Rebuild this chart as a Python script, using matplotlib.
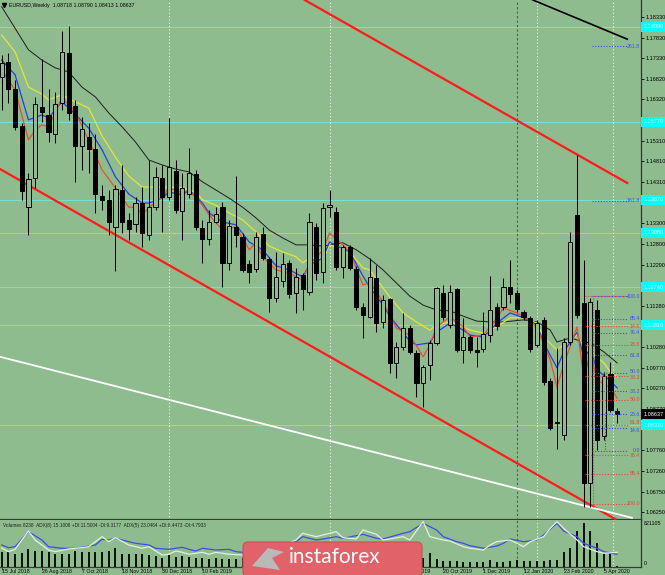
import matplotlib
matplotlib.use('Agg')
import matplotlib.pyplot as plt
import matplotlib.transforms as mtransforms
from matplotlib.patches import Rectangle, FancyBboxPatch, Polygon

plt.rcParams['font.family'] = ['Liberation Sans', 'DejaVu Sans']

BG = '#8fbc8f'

# weekly EURUSD candles, 15 Jul 2018 .. 19 Apr 2020 (bar index 0..92)
opens = [1.1687, 1.1723, 1.1657, 1.1567, 1.1369, 1.1440, 1.1613, 1.1594, 1.1548, 1.1623,
         1.1745, 1.1616, 1.1518, 1.1540, 1.1511, 1.1396, 1.1387, 1.1321, 1.1411, 1.1338,
         1.1328, 1.1379, 1.1301, 1.1369, 1.1440, 1.1394, 1.1457, 1.1360, 1.1401, 1.1450,
         1.1318, 1.1291, 1.1333, 1.1369, 1.1233, 1.1321, 1.1296, 1.1230, 1.1218, 1.1304,
         1.1243, 1.1147, 1.1189, 1.1233, 1.1160, 1.1204, 1.1162, 1.1321, 1.1211, 1.1369,
         1.1357, 1.1223, 1.1272, 1.1218, 1.1125, 1.1101, 1.1196, 1.1089, 1.1145, 1.0989,
         1.1028, 1.1074, 1.1013, 1.0940, 1.0984, 1.1038, 1.1160, 1.1082, 1.1169, 1.1021,
         1.1052, 1.1021, 1.1023, 1.1057, 1.1125, 1.1125, 1.1174, 1.1160, 1.1113, 1.1099,
         1.1033, 1.1094, 1.0945, 1.0842, 1.0813, 1.1040, 1.1350, 1.1135, 1.0696, 1.1118,
         1.0811, 1.0962, 1.08718]
highs = [1.1740, 1.1745, 1.1679, 1.1574, 1.1452, 1.1638, 1.1731, 1.1657, 1.1650, 1.1799,
         1.1811, 1.1631, 1.1589, 1.1574, 1.1548, 1.1423, 1.1411, 1.1423, 1.1472, 1.1355,
         1.1394, 1.1418, 1.1484, 1.1467, 1.1472, 1.1587, 1.1484, 1.1452, 1.1513, 1.1460,
         1.1338, 1.1362, 1.1369, 1.1382, 1.1338, 1.1445, 1.1306, 1.1240, 1.1308, 1.1321,
         1.1247, 1.1260, 1.1257, 1.1240, 1.1221, 1.1208, 1.1355, 1.1330, 1.1379, 1.1411,
         1.1369, 1.1277, 1.1277, 1.1226, 1.1135, 1.1245, 1.1228, 1.1155, 1.1147, 1.1040,
         1.1111, 1.1082, 1.1021, 1.0984, 1.1045, 1.1174, 1.1179, 1.1179, 1.1172, 1.1099,
         1.1057, 1.1052, 1.1113, 1.1201, 1.1135, 1.1196, 1.1240, 1.1167, 1.1118, 1.1103,
         1.1094, 1.1101, 1.0952, 1.1025, 1.1050, 1.1308, 1.1496, 1.1240, 1.1147, 1.1143,
         1.0967, 1.0991, 1.08790]
lows = [1.1606, 1.1623, 1.1557, 1.1387, 1.1301, 1.1416, 1.1577, 1.1528, 1.1526, 1.1606,
        1.1582, 1.1430, 1.1460, 1.1452, 1.1355, 1.1362, 1.1301, 1.1213, 1.1306, 1.1289,
        1.1308, 1.1272, 1.1289, 1.1362, 1.1308, 1.1387, 1.1355, 1.1289, 1.1391, 1.1313,
        1.1233, 1.1277, 1.1330, 1.1174, 1.1216, 1.1272, 1.1211, 1.1184, 1.1211, 1.1240,
        1.1113, 1.1138, 1.1174, 1.1147, 1.1111, 1.1118, 1.1155, 1.1191, 1.1184, 1.1345,
        1.1216, 1.1196, 1.1216, 1.1118, 1.1050, 1.1099, 1.1064, 1.1074, 1.0964, 1.0952,
        1.1021, 1.1011, 1.0906, 1.0881, 1.0947, 1.1033, 1.1094, 1.1074, 1.1016, 1.0989,
        1.1013, 1.0979, 1.1016, 1.1040, 1.1069, 1.1118, 1.1135, 1.1113, 1.1094, 1.1016,
        1.1028, 1.0935, 1.0825, 1.0779, 1.0801, 1.1033, 1.1099, 1.0637, 1.0637, 1.0777,
        1.0801, 1.0869, 1.08413]
closes = [1.1721, 1.1657, 1.1565, 1.1408, 1.1438, 1.1621, 1.1601, 1.1552, 1.1621, 1.1748,
          1.1599, 1.1518, 1.1560, 1.1511, 1.1401, 1.1387, 1.1333, 1.1413, 1.1333, 1.1316,
          1.1379, 1.1306, 1.1369, 1.1443, 1.1394, 1.1467, 1.1362, 1.1416, 1.1452, 1.1321,
          1.1291, 1.1333, 1.1352, 1.1233, 1.1323, 1.1301, 1.1216, 1.1211, 1.1296, 1.1245,
          1.1147, 1.1199, 1.1230, 1.1157, 1.1199, 1.1169, 1.1333, 1.1208, 1.1367, 1.1374,
          1.1223, 1.1272, 1.1221, 1.1125, 1.1106, 1.1199, 1.1086, 1.1143, 1.0989, 1.1028,
          1.1074, 1.1016, 1.0940, 1.0979, 1.1038, 1.1172, 1.1101, 1.1162, 1.1021, 1.1052,
          1.1021, 1.1016, 1.1060, 1.1118, 1.1079, 1.1174, 1.1157, 1.1121, 1.1101, 1.1023,
          1.1086, 1.0942, 1.0830, 1.0845, 1.1040, 1.1284, 1.1106, 1.0696, 1.1138, 1.0801,
          1.0957, 1.0874, 1.08637]
volumes = [281000, 270000, 232000, 262000, 327000, 295000, 295000, 270000, 243000, 243000,
           243000, 295000, 270000, 270000, 270000, 270000, 295000, 357000, 243000, 238000,
           238000, 232000, 219000, 194000, 167000, 219000, 186000, 194000, 186000, 156000,
           156000, 148000, 156000, 148000, 148000, 148000, 156000, 150000, 160000, 145000,
           170000, 155000, 140000, 150000, 165000, 150000, 145000, 160000, 150000, 140000,
           155000, 150000, 145000, 160000, 150000, 155000, 145000, 150000, 140000, 150000,
           155000, 145000, 150000, 156000, 251000, 143000, 105000, 105000, 105000, 80000,
           86000, 91000, 91000, 118000, 91000, 91000, 105000, 124000, 105000, 105000,
           105000, 105000, 118000, 118000, 276000, 346000, 675000, 821105, 675000, 441000,
           251000, 270000, 8238]

# moving averages (bar index, price)
ma_black_x = [0, 4, 6, 8, 10, 12, 14, 16, 18, 20, 22, 24, 26, 28, 30, 32, 34, 36, 38, 40,
              42, 44, 46, 48, 51, 53, 55, 57, 59, 61, 63, 65, 67, 69, 71, 73, 75, 78, 80, 82,
              83, 85, 87, 88, 90, 92]
ma_black_y = [1.1858, 1.1753, 1.1728, 1.1709, 1.1699, 1.1662, 1.1638, 1.1599, 1.1565, 1.1528,
              1.1484, 1.1472, 1.1462, 1.1455, 1.1431, 1.1411, 1.1391, 1.1369, 1.1343, 1.1313,
              1.1294, 1.1277, 1.1277, 1.1274, 1.1282, 1.1265, 1.1243, 1.1216, 1.1184, 1.1152,
              1.1130, 1.1118, 1.1116, 1.1103, 1.1091, 1.1089, 1.1089, 1.1094, 1.1089, 1.1069,
              1.1040, 1.1050, 1.1040, 1.1038, 1.1016, 1.0989]
ma_yellow_x = [0, 2, 4, 6, 7, 9, 11, 13, 15, 17, 19, 21, 23, 25, 27, 29, 30, 32, 34, 36,
               38, 40, 42, 44, 45, 46, 47, 48, 49, 51, 52, 54, 55, 57, 58, 60, 62, 64, 65, 67,
               69, 70, 72, 74, 76, 78, 80, 81, 83, 84, 86, 87, 88, 90, 91, 92]
ma_yellow_y = [1.1789, 1.1748, 1.1662, 1.1645, 1.1631, 1.1643, 1.1626, 1.1611, 1.1543, 1.1491,
               1.1445, 1.1418, 1.1418, 1.1418, 1.1416, 1.1406, 1.1387, 1.1374, 1.1355, 1.1338,
               1.1309, 1.1274, 1.1260, 1.1248, 1.1233, 1.1245, 1.1245, 1.1240, 1.1277, 1.1267,
               1.1260, 1.1221, 1.1216, 1.1172, 1.1150, 1.1111, 1.1089, 1.1069, 1.1082, 1.1089,
               1.1077, 1.1069, 1.1062, 1.1077, 1.1099, 1.1099, 1.1086, 1.1052, 1.1021, 1.1033,
               1.1057, 1.1030, 1.1016, 1.0989, 1.0967, 1.0955]
ma_blue_x = [0, 2, 4, 6, 7, 9, 11, 13, 15, 17, 19, 21, 22, 24, 25, 27, 28, 30, 31, 33,
             35, 37, 39, 41, 43, 45, 46, 48, 49, 51, 52, 54, 55, 57, 58, 61, 62, 64, 65, 67,
             69, 70, 72, 74, 76, 78, 80, 81, 83, 84, 86, 87, 88, 89, 91, 92]
ma_blue_y = [1.1728, 1.1692, 1.1582, 1.1594, 1.1587, 1.1626, 1.1596, 1.1562, 1.1509, 1.1443,
             1.1401, 1.1379, 1.1379, 1.1391, 1.1406, 1.1399, 1.1411, 1.1379, 1.1355, 1.1333,
             1.1326, 1.1284, 1.1265, 1.1226, 1.1216, 1.1199, 1.1228, 1.1245, 1.1284, 1.1267,
             1.1260, 1.1201, 1.1174, 1.1130, 1.1103, 1.1042, 1.1033, 1.1038, 1.1064, 1.1086,
             1.1069, 1.1057, 1.1052, 1.1086, 1.1111, 1.1099, 1.1082, 1.1038, 1.0977, 1.1016,
             1.1064, 1.1004, 1.1021, 1.0972, 1.0945, 1.0928]
ma_red_x = [0, 2, 4, 5, 6, 7, 9, 11, 13, 15, 17, 19, 20, 21, 23, 24, 25, 27, 28, 30,
            31, 33, 35, 37, 38, 39, 41, 43, 45, 46, 47, 48, 49, 51, 52, 54, 55, 57, 59, 61,
            63, 64, 65, 67, 69, 70, 72, 74, 75, 77, 79, 80, 82, 83, 84, 86, 87, 88, 89, 91, 92]
ma_red_y = [1.1704, 1.1655, 1.1533, 1.1557, 1.1570, 1.1565, 1.1636, 1.1601, 1.1533, 1.1460,
            1.1416, 1.1369, 1.1369, 1.1352, 1.1382, 1.1394, 1.1416, 1.1404, 1.1411, 1.1374,
            1.1350, 1.1313, 1.1321, 1.1265, 1.1282, 1.1248, 1.1216, 1.1208, 1.1191, 1.1233,
            1.1245, 1.1265, 1.1306, 1.1277, 1.1260, 1.1179, 1.1186, 1.1138, 1.1074, 1.1057,
            1.1004, 1.1033, 1.1077, 1.1101, 1.1077, 1.1052, 1.1057, 1.1099, 1.1123, 1.1111,
            1.1094, 1.1074, 1.0996, 1.0930, 1.0984, 1.1077, 1.0952, 1.1013, 1.0947, 1.0928,
            1.0903]

# ADX lines in the volume window
adx8_x = [0, 1, 2, 4, 6, 7, 9, 11, 12, 14, 15, 16, 17, 19, 20, 22, 23, 25, 27, 28,
          29, 30, 32, 34, 35, 36, 39, 42, 44, 45, 47, 48, 50, 51, 54, 56, 57, 60, 61, 63,
          65, 66, 68, 69, 70, 72, 74, 75, 76, 78, 80, 81, 83, 84, 86, 87, 89, 90, 92]
adx8_v = [26.7, 23.3, 24.6, 43.2, 32.9, 24.6, 22.6, 22.6, 23.8, 26.7, 33.7, 32.9, 35.0, 30.8,
          28.8, 26.7, 22.6, 21.3, 23.8, 21.3, 19.2, 22.6, 20.5, 21.3, 18.4, 17.6, 19.2, 25.4,
          30.8, 37.0, 32.9, 34.1, 37.0, 35.0, 39.9, 35.0, 34.1, 41.2, 43.2, 53.6, 45.3, 37.0,
          30.8, 28.8, 25.8, 22.6, 25.4, 28.8, 34.1, 30.8, 32.9, 39.1, 53.6, 44.0, 37.0, 28.8,
          22.6, 18.4, 15.1]
adx5_x = [0, 1, 2, 4, 5, 7, 8, 10, 12, 13, 15, 16, 17, 19, 21, 22, 24, 25, 26, 27,
          28, 30, 31, 32, 34, 36, 39, 42, 44, 45, 47, 48, 50, 51, 53, 54, 56, 57, 60, 61,
          63, 64, 66, 67, 69, 70, 72, 73, 74, 76, 77, 78, 79, 81, 82, 83, 84, 86, 87, 89,
          90, 92]
adx5_v = [30.0, 24.0, 27.9, 57.5, 42.9, 26.7, 24.0, 28.4, 30.5, 32.1, 48.3, 40.2, 46.7, 34.8,
          29.5, 32.1, 18.6, 19.8, 25.1, 23.0, 19.8, 23.0, 19.8, 23.0, 19.8, 18.6, 21.9, 34.8,
          42.9, 53.8, 48.3, 51.0, 56.4, 46.7, 44.6, 59.1, 52.2, 42.9, 48.3, 42.9, 72.6, 48.3,
          42.9, 41.3, 32.1, 29.5, 26.7, 34.8, 40.2, 42.9, 37.6, 32.1, 40.2, 48.3, 61.9, 72.6,
          61.9, 42.9, 32.1, 24.0, 21.4, 23.0]

price_ticks = [1.18330, 1.17830, 1.17330, 1.16820, 1.16320, 1.15310, 1.14810, 1.14310,
               1.13300, 1.12800, 1.12290, 1.11280, 1.10280, 1.09770, 1.09270, 1.08770,
               1.07760, 1.07260, 1.06750, 1.06250]
cyan_levels = [1.1809, 1.1577, 1.1387, 1.1306, 1.1174, 1.1081, 1.0837]

date_pos = [0, 6, 12, 18, 24, 30, 36, 42, 48, 54, 60, 66, 72, 78, 84, 90]
date_labels = ['15 Jul 2018', '26 Aug 2018', '7 Oct 2018', '18 Nov 2018', '30 Dec 2018',
               '10 Feb 2019', '24 Mar 2019', '5 May 2019', '16 Jun 2019', '28 Jul 2019',
               '8 Sep 2019', '20 Oct 2019', '1 Dec 2019', '12 Jan 2020', '23 Feb 2020',
               '5 Apr 2020']

fib_blue_levels = ['261.8', '161.8', '100.0', '85.4', '76.4', '61.8', '50.0', '38.2',
                   '23.6', '14.6', '0.0']
fib_blue_prices = [1.1762, 1.1385, 1.1152, 1.1097, 1.1063, 1.1008, 1.0964, 1.0920,
                   1.0864, 1.0830, 1.0775]
fib_red_levels = ['', '14.6', '23.6', '38.2', '50.0', '61.8', '76.4', '85.4', '100.0']
fib_red_prices = [1.1152, 1.1079, 1.1033, 1.0958, 1.0899, 1.0838, 1.0764, 1.0718, 1.0645]

last_price = 1.08637
vol_max_label = '821105'

# ---------------------------------------------------------------
fig = plt.figure(figsize=(6.65, 5.75), dpi=100, facecolor=BG)
ax = fig.add_axes([0, 55 / 575, 641 / 665, 520 / 575], facecolor=BG)
ax2 = fig.add_axes([0, 8.5 / 575, 641 / 665, 46.5 / 575], facecolor=BG)

XL = (-0.254, 95.56)
ax.set_xlim(*XL)
ax.set_ylim(1.06057, 1.18745)
ppx = 0.000244  # price per pixel

# reference lines
for lv in cyan_levels:
    ax.axhline(lv, color='#74e4d6', lw=0.7, zorder=1)
for xv in [25, 49, 80, 91.3]:
    for a in (ax, ax2):
        a.axvline(xv, color='#eef4ea', lw=0.8, ls=(0, (1, 2)), zorder=1)
for a in (ax, ax2):
    a.axvline(77, color='#4e5e4e', lw=0.8, ls=(0, (2, 2)), zorder=1)

# trend lines
ax.plot([45.3, 93.5], [1.18745, 1.1428], color='#ff1a1a', lw=1.6, zorder=3)
ax.plot([-0.25, 91.7], [1.1462, 1.0608], color='#ff1a1a', lw=1.6, zorder=3)
ax.plot([-0.25, 94.2], [1.1004, 1.0611], color='white', lw=1.3, zorder=3)
ax.plot([79.4, 93.5], [1.18745, 1.1779], color='black', lw=1.2, zorder=3)

# moving averages
ax.plot(ma_black_x, ma_black_y, color='#1c1c1c', lw=0.7, zorder=4)
ax.plot(ma_yellow_x, ma_yellow_y, color='#e4e43a', lw=0.9, zorder=4)
ax.plot(ma_blue_x, ma_blue_y, color='#2a3de0', lw=0.9, zorder=4)
ax.plot(ma_red_x, ma_red_y, color='#e8502c', lw=0.9, zorder=4)

# candles
bw = 0.62
for i, (o, h, l, c) in enumerate(zip(opens, highs, lows, closes)):
    ax.vlines(i, l, h, color='black', lw=0.75, zorder=5)
    bottom = min(o, c)
    height = max(abs(c - o), 0.00015)
    face = 'black' if c < o else BG
    ax.add_patch(Rectangle((i - bw / 2, bottom), bw, height, facecolor=face,
                           edgecolor='black', lw=0.7, zorder=6))

# fibonacci levels (labels that sit on top of each other get a small nudge, in px)
nudge = {('red', '38.2'): -2.2, ('blue', '50.0'): 2.0,
         ('red', '61.8'): 2.0, ('blue', '14.6'): -2.0}
RED_F, BLUE_F = '#f03c3c', '#3a4fe0'
for lab, pr in zip(fib_red_levels, fib_red_prices):
    ax.plot([87.2, 93.6], [pr, pr], color=RED_F, lw=0.8, ls=(0, (1, 1.5)), zorder=7)
    if lab:
        ty = pr + nudge.get(('red', lab), 0) * ppx
        ax.text(95.45, ty, lab, color=RED_F, fontsize=3.8, ha='right', va='center', zorder=8)
for lab, pr in zip(fib_blue_levels, fib_blue_prices):
    ax.plot([88.3, 93.6], [pr, pr], color=BLUE_F, lw=0.8, ls=(0, (1, 1.5)), zorder=7)
    ty = pr + nudge.get(('blue', lab), 0) * ppx
    ax.text(95.45, ty, lab, color=BLUE_F, fontsize=3.8, ha='right', va='center', zorder=8)
ax.plot([88.4, 88.4], [1.1147, 1.0637], color=RED_F, lw=0.8, ls=(0, (1, 1.5)), zorder=7)
ax.plot([90.2, 90.2], [1.0869, 1.0774], color=BLUE_F, lw=0.8, ls=(0, (1, 1.5)), zorder=7)

# axes styling
for s in ['left', 'top']:
    ax.spines[s].set_visible(False)
    ax2.spines[s].set_visible(False)
ax.spines['right'].set_color('#333333')
ax.spines['right'].set_linewidth(0.9)
ax.spines['bottom'].set_color('#3a3a3a')
ax.spines['bottom'].set_linewidth(1.6)
ax2.spines['right'].set_color('#333333')
ax2.spines['right'].set_linewidth(0.9)
ax2.spines['bottom'].set_color('#3a3a3a')
ax2.spines['bottom'].set_linewidth(0.9)

ax.set_xticks([])
ax.yaxis.tick_right()
ax.set_yticks(price_ticks)
ax.set_yticklabels([f'{p:.5f}' for p in price_ticks])
ax.tick_params(axis='y', length=2.2, width=0.6, pad=0.8, labelsize=4.0, colors='black')

trans_r = mtransforms.blended_transform_factory(ax.transAxes, ax.transData)
box_h = 10 * ppx
for lv in cyan_levels:
    ax.add_patch(Rectangle((1.0, lv - box_h / 2), 24 / 641, box_h, transform=trans_r,
                           facecolor='#00ffff', edgecolor='none', clip_on=False, zorder=9))
    ax.text(1.0 + 3 / 641, lv, f'{lv:.5f}', transform=trans_r, color='#d8ffff',
            fontsize=4.0, va='center', ha='left', clip_on=False, zorder=10)
ax.add_patch(Rectangle((1.0, last_price - box_h / 2), 24 / 641, box_h, transform=trans_r,
                       facecolor='black', edgecolor='none', clip_on=False, zorder=9))
ax.text(1.0 + 3 / 641, last_price, f'{last_price:.5f}', transform=trans_r, color='white',
        fontsize=4.0, va='center', ha='left', clip_on=False, zorder=10)

# header
ax.plot([4 / 641], [1 - 5 / 520], marker='v', color='black', ms=3, transform=ax.transAxes,
        clip_on=False)
ax.text(9 / 641, 1 - 5 / 520, 'EURUSD,Weekly  1.08718 1.08790 1.08413 1.08637',
        transform=ax.transAxes, fontsize=3.8, va='center', ha='left', color='black')

# volume window
ax2.set_xlim(*XL)
ax2.set_ylim(0, 883800)
ax2.vlines(range(len(volumes)), 0, volumes, color='black', lw=1.3, zorder=3)
ax2.set_yticks([])
ax2.set_xticks(date_pos)
ax2.set_xticklabels([])
ax2.tick_params(axis='x', length=2, width=0.6, direction='out', colors='#333333')
for p, lab in zip(date_pos, date_labels):
    ax2.text(p, -0.1, lab, transform=ax2.get_xaxis_transform(), fontsize=3.8,
             ha='left', va='center', color='black')
ax2.text(1.0047, 0.914, vol_max_label, transform=ax2.transAxes, fontsize=3.8,
         ha='left', va='center')
ax2.text(1.0047, 0.075, '0', transform=ax2.transAxes, fontsize=3.8, ha='left', va='center')
ax2.text(3 / 641, 0.88, 'Volumes 8238  ADX(8) 15.1008 +DI:11.5004 -DI:9.3177  '
         'ADX(5) 23.0464 +DI:8.4473 -DI:4.7933', transform=ax2.transAxes, fontsize=3.4,
         ha='left', va='center', color='#202020')

ax_a = fig.add_axes(ax2.get_position(), facecolor='none')
ax_a.set_xlim(*XL)
ax_a.set_ylim(0, 57.7)
ax_a.axis('off')
ax_a.plot(adx8_x, adx8_v, color='#3a4fe0', lw=0.9)
ax_b = fig.add_axes(ax2.get_position(), facecolor='none')
ax_b.set_xlim(*XL)
ax_b.set_ylim(0, 75.3)
ax_b.axis('off')
ax_b.plot(adx5_x, adx5_v, color='#e6eede', lw=0.9)

# watermark logo (pixel -> inches)
def px(x, y):
    return x / 100, (575 - y) / 100

lx, ly = px(243, 577)
logo = FancyBboxPatch((lx, ly), 1.79, 0.35, boxstyle='round,pad=0,rounding_size=0.05',
                      transform=fig.dpi_scale_trans, facecolor='#e2626a',
                      edgecolor='#c94e56', lw=0.8, zorder=20)
fig.add_artist(logo)
icon = Polygon([px(252, 566), px(268, 548), px(284, 552), px(272, 558), px(280, 570)],
               closed=True, transform=fig.dpi_scale_trans, facecolor='#b9b9b9',
               edgecolor='none', zorder=21)
fig.add_artist(icon)
tx, ty = px(289, 557)
fig.text(tx / 6.65, ty / 5.75, 'instaforex', fontsize=15, color='white',
         family=['Lato', 'DejaVu Sans'], fontweight='normal', ha='left', va='center',
         zorder=22)

fig.savefig('out.png', dpi=100, facecolor=BG)
